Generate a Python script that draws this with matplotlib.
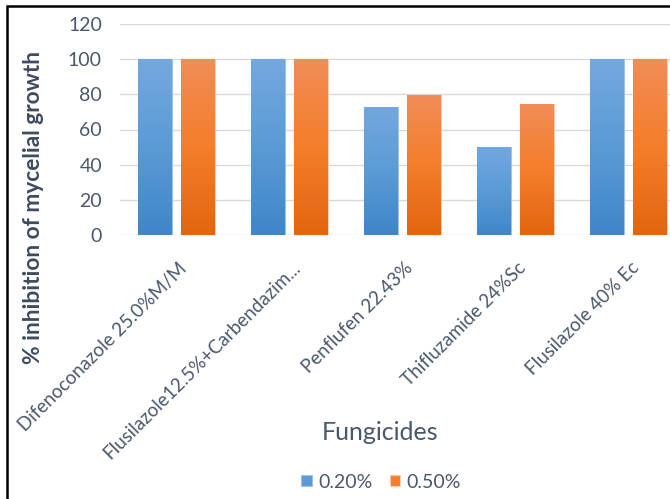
import matplotlib
matplotlib.use("Agg")
import matplotlib.pyplot as plt
import numpy as np
from matplotlib.colors import LinearSegmentedColormap
from matplotlib.patches import Rectangle

plt.rcParams["font.family"] = ["Lato", "DejaVu Sans"]

fungicides = ["Difenoconazole 25.0%M/M", "Flusilazole12.5%+Carbendazim...",
              "Penflufen 22.43%", "Thifluzamide 24%Sc", "Flusilazole 40% Ec"]
conc_labels = ["0.20%", "0.50%"]
inhib_020 = [100, 100, 72.6, 50.1, 100]
inhib_050 = [100, 100, 79.6, 74.5, 100]

W, H = 670, 499
fig = plt.figure(figsize=(W / 100, H / 100), dpi=100)
ax = fig.add_axes([120 / W, (H - 235.3) / H, 565 / W, (235.3 - 23.7) / H])

grey = "#4A586C"
blue_cm = LinearSegmentedColormap.from_list("b", ["#3F86C8", "#5B9BD5", "#74A8DE"])
orng_cm = LinearSegmentedColormap.from_list("o", ["#E2650F", "#F47E2B", "#F08D58"])
grad = np.linspace(0, 1, 256).reshape(-1, 1)

x = np.arange(len(fungicides))
bw, off = 0.30, 0.19
for vals, dx, cm, edge, lab in [(inhib_020, -off, blue_cm, "#9DC3E6", conc_labels[0]),
                                (inhib_050, off, orng_cm, "#F8CBAD", conc_labels[1])]:
    bars = ax.bar(x + dx, vals, bw, color=cm(0.5), edgecolor=edge, linewidth=0.8,
                  label=lab, zorder=2)
    for b in bars:
        x0, w, h = b.get_x(), b.get_width(), b.get_height()
        im = ax.imshow(grad, cmap=cm, origin="lower", aspect="auto",
                       extent=(x0, x0 + w, 0, h), zorder=2.5)
        im.set_clip_path(b)

ax.set_xlim(-0.5, len(fungicides) - 0.5)
ax.set_ylim(0, 120)
ax.set_yticks(range(0, 121, 20))
ax.set_xticks([])
ax.grid(axis="y", color="#D9D9D9", linewidth=1, zorder=0)
ax.set_axisbelow(True)
for s in ax.spines.values():
    s.set_visible(False)
ax.tick_params(axis="y", length=0, pad=13, labelsize=14, labelcolor=grey)

for i, name in enumerate(fungicides):
    ax.annotate(name, xy=(i, 0), xytext=(8, -30), textcoords="offset pixels",
                rotation=45, rotation_mode="anchor", ha="right", va="center",
                fontsize=13.5, color=grey, annotation_clip=False)

fig.text(34 / W, 1 - 207 / H, "% inhibition of mycelial growth", rotation=90,
         ha="center", va="center", fontsize=16.4, fontweight="bold", color="#3E4B5E")
fig.text(380 / W, 1 - 432 / H, "Fungicides", ha="center", va="center",
         fontsize=18, color=grey)

handles, labels = ax.get_legend_handles_labels()
fig.legend(handles, labels, loc="center", bbox_to_anchor=(381 / W, 1 - 482 / H),
           ncol=2, frameon=False, fontsize=14, labelcolor=grey, handlelength=0.55,
           handleheight=0.55, handletextpad=0.3, columnspacing=0.9)

fig.patches.append(Rectangle((7 / W, -0.1), 1.2, 1 - 6 / H + 0.1, transform=fig.transFigure,
                             fill=False, edgecolor="black", linewidth=1.8))

fig.savefig("out.png", dpi=100)
